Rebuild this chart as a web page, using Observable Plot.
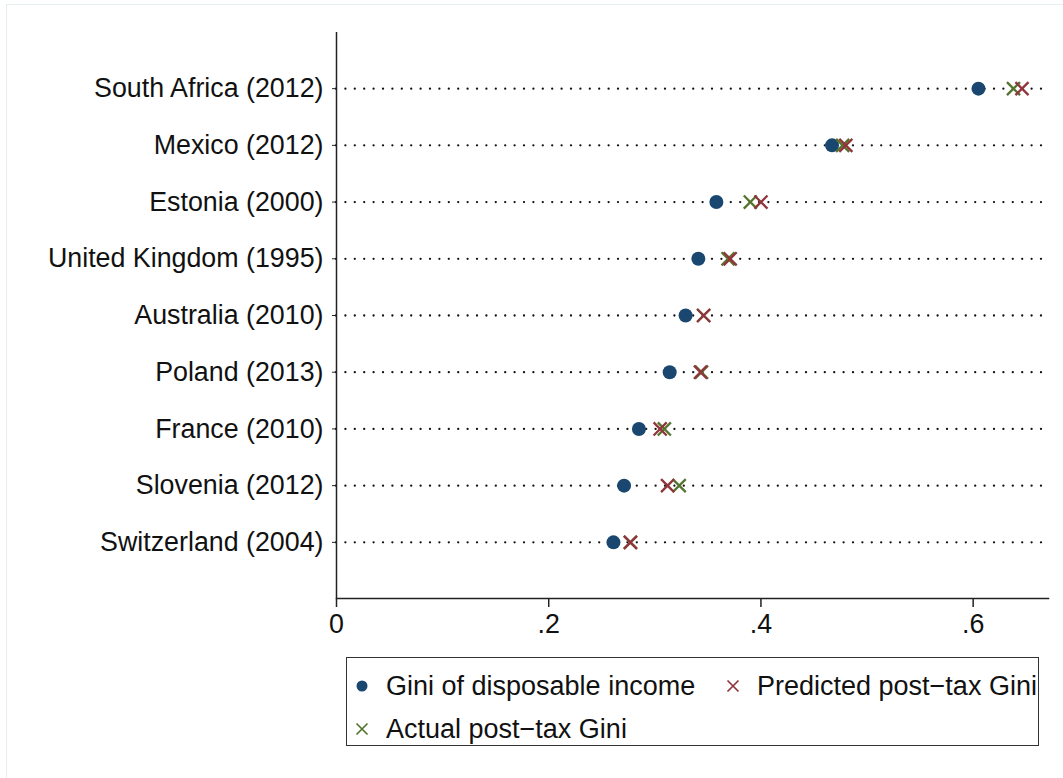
<!DOCTYPE html>
<html>
<head>
<meta charset="utf-8">
<script src="https://cdn.jsdelivr.net/npm/d3@7"></script>
<script src="https://cdn.jsdelivr.net/npm/@observablehq/plot@0.6"></script>
<style>
  html, body { margin: 0; padding: 0; background: #fff; overflow: hidden; }
  body { width: 1063px; height: 778px; position: relative; font-family: "Liberation Sans", Arial, Helvetica, sans-serif; }
  #outer { position: absolute; left: 6px; top: 4px; width: 1080px; height: 800px; border: 1.5px solid #e6eef1; box-sizing: border-box; }
  #chart { position: absolute; left: 0; top: 0; }
  #legend { position: absolute; left: 346px; top: 657px; width: 693px; height: 89px; border: 1.5px solid #333; box-sizing: border-box; background: #fff; }
  .item { position: absolute; font-size: 27px; color: #111; white-space: nowrap; line-height: 1; }
  .sym { position: absolute; }
</style>
</head>
<body>
<div id="outer"></div>
<div id="chart"></div>
<div id="legend"></div>
<script>
const countries = [
  "South Africa (2012)", "Mexico (2012)", "Estonia (2000)", "United Kingdom (1995)",
  "Australia (2010)", "Poland (2013)", "France (2010)", "Slovenia (2012)", "Switzerland (2004)"
];
const disposable = [0.605, 0.467, 0.358, 0.341, 0.329, 0.314, 0.285, 0.271, 0.261];
const predicted  = [0.646, 0.480, 0.400, 0.371, 0.346, 0.343, 0.305, 0.312, 0.277];
const actual     = [0.638, 0.477, 0.390, 0.369, 0.346, 0.344, 0.309, 0.323, 0.277];
const xTicks = [0, 0.2, 0.4, 0.6];
const xTickLabels = ["0", ".2", ".4", ".6"];
const seriesNames = ["Gini of disposable income", "Predicted post\u2212tax Gini", "Actual post\u2212tax Gini"];

const navy = "#1a476f", red = "#90353b", green = "#55752f";

const rows = countries.map((c, i) => ({country: c, disp: disposable[i], pred: predicted[i], act: actual[i]}));

const chart = Plot.plot({
  width: 1063,
  height: 650,
  marginLeft: 336,
  marginRight: 15,
  marginTop: 32,
  marginBottom: 52,
  style: {fontSize: "26.8px", fontFamily: "'Liberation Sans', Arial, sans-serif", color: "#111", background: "transparent", overflow: "visible"},
  x: {domain: [0, 0.671]},
  y: {domain: countries, type: "point", padding: 0.99, round: false},
  marks: [
    Plot.ruleY(rows, {y: "country", x1: 0, x2: 0.666, stroke: "#111", strokeWidth: 2.3, strokeDasharray: "0,9.4", strokeLinecap: "round"}),
    Plot.ruleX([0], {stroke: "#222", strokeWidth: 1.5}),
    Plot.frame({anchor: "bottom", stroke: "#222", strokeWidth: 1.5}),
    Plot.axisX({ticks: xTicks, tickFormat: (d) => xTickLabels[xTicks.indexOf(d)], tickSize: 9, tickPadding: 6, label: null, stroke: "#222", strokeWidth: 1.5, fill: "#111"}),
    Plot.axisY({tickSize: 4, tickPadding: 9, label: null, stroke: "#222", fill: "#111"}),
    Plot.dot(rows, {x: "disp", y: "country", r: 7, fill: navy, stroke: "none"}),
    Plot.dot(rows, {x: "act", y: "country", r: 6, symbol: "times", stroke: green, strokeWidth: 2.3}),
    Plot.dot(rows, {x: "pred", y: "country", r: 6, symbol: "times", stroke: red, strokeWidth: 2.3})
  ]
});
document.getElementById("chart").appendChild(chart);

// Legend
const legend = d3.select("#legend");
const items = [
  {name: seriesNames[0], type: "dot", color: navy, sx: 15, tx: 39, cy: 28},
  {name: seriesNames[1], type: "x", color: red, sx: 386, tx: 410, cy: 28},
  {name: seriesNames[2], type: "x", color: green, sx: 15, tx: 39, cy: 71}
];
items.forEach(it => {
  const s = legend.append("svg").attr("class", "sym").attr("width", 16).attr("height", 16)
    .style("left", (it.sx - 8) + "px").style("top", (it.cy - 8) + "px");
  if (it.type === "dot") {
    s.append("circle").attr("cx", 8).attr("cy", 8).attr("r", 5.5).attr("fill", it.color);
  } else {
    s.append("path").attr("d", "M2.5,2.5L13.5,13.5M13.5,2.5L2.5,13.5").attr("stroke", it.color).attr("stroke-width", 1.7).attr("fill", "none");
  }
  legend.append("div").attr("class", "item").style("left", it.tx + "px").style("top", (it.cy - 13) + "px").text(it.name);
});
</script>
</body>
</html>
